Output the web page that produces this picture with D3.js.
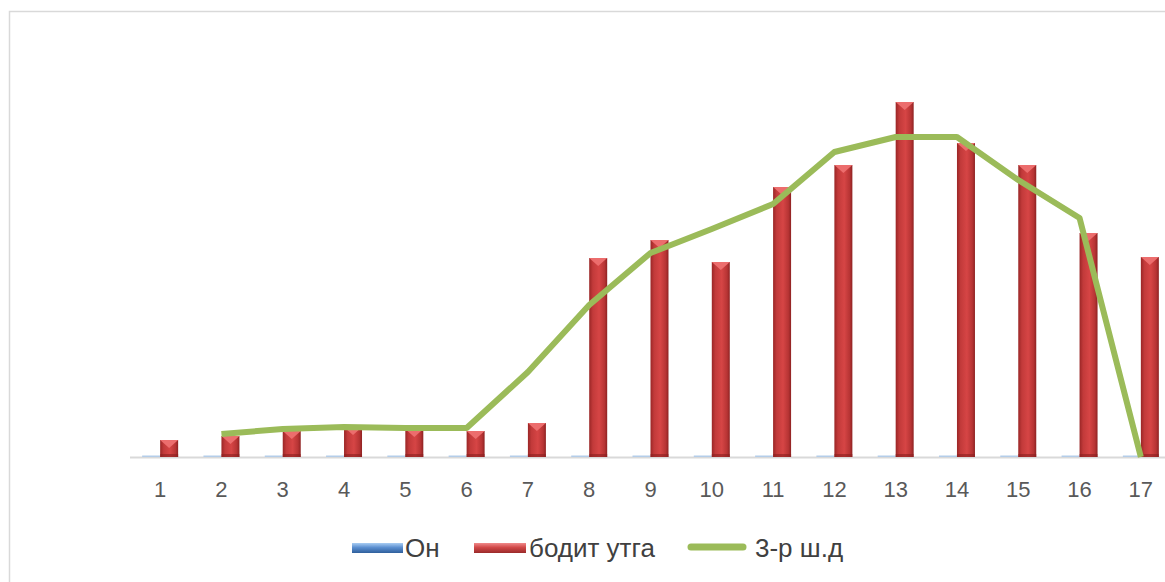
<!DOCTYPE html>
<html lang="mn">
<head>
<meta charset="utf-8">
<script src="https://d3js.org/d3.v7.min.js"></script>
<style>
  body { margin: 0; background: #fff; }
  svg { display: block; }
  .tick text { font-family: "Liberation Sans", Arial, sans-serif; font-size: 22px; fill: #595959; }
  .legend text { font-family: "Liberation Sans", Arial, sans-serif; font-size: 26px; fill: #404040; }
</style>
</head>
<body>
<svg width="1165" height="582"></svg>
<script>
// chart values
var categories = ["1","2","3","4","5","6","7","8","9","10","11","12","13","14","15","16","17"];
var seriesNames = ["Он", "бодит утга", "3-р ш.д"];
var onValues = [0,0,0,0,0,0,0,0,0,0,0,0,0,0,0,0,0];
var actualValues = [0.85,1.05,1.3,1.5,1.4,1.3,1.7,9.95,10.85,9.75,13.5,14.6,17.75,15.7,14.6,11.2,10.0];
var maValues = [null,1.15,1.4,1.5,1.45,1.45,4.25,7.6,10.2,11.4,12.65,15.25,16.0,16.0,13.85,11.95,0];

var svg = d3.select("svg");
var baseY = 457, topY = 57;

// chart frame (cut off at right and bottom)
svg.append("path")
  .attr("d", "M9.5,582 L9.5,11.5 L1165,11.5")
  .attr("fill", "none").attr("stroke", "#d9d9d9").attr("stroke-width", 1.5);

var defs = svg.append("defs");
var redGrad = defs.append("linearGradient").attr("id", "redBar");
redGrad.append("stop").attr("offset", "0%").attr("stop-color", "#9a2626");
redGrad.append("stop").attr("offset", "20%").attr("stop-color", "#c23a3a");
redGrad.append("stop").attr("offset", "55%").attr("stop-color", "#d64545");
redGrad.append("stop").attr("offset", "85%").attr("stop-color", "#b73434");
redGrad.append("stop").attr("offset", "100%").attr("stop-color", "#8e2222");

function swatchGrad(id, light, mid, dark) {
  var g = defs.append("linearGradient").attr("id", id)
    .attr("x1", 0).attr("y1", 0).attr("x2", 0).attr("y2", 1);
  g.append("stop").attr("offset", "0%").attr("stop-color", light);
  g.append("stop").attr("offset", "45%").attr("stop-color", mid);
  g.append("stop").attr("offset", "100%").attr("stop-color", dark);
}
swatchGrad("blueSw", "#a9cdf3", "#5b8fd0", "#2f5f9c");
swatchGrad("redSw", "#f08a8a", "#d04848", "#9a2a2a");

var x = d3.scaleBand()
  .domain(categories)
  .range([129.5, 1171.5])
  .paddingInner(0.413)
  .paddingOuter(0.2065);

var xs = d3.scaleBand()
  .domain(seriesNames.slice(0, 2))
  .range([0, x.bandwidth()]);

var y = d3.scaleLinear().domain([0, 20]).range([baseY, topY]);

// axis
var axis = svg.append("g")
  .attr("transform", "translate(0," + baseY + ")")
  .call(d3.axisBottom(x).tickSize(0).tickPadding(24));
axis.select(".domain").attr("stroke", "#d9d9d9").attr("stroke-width", 2);

// "Он" bars (near zero -> thin line on the axis)
svg.append("g").selectAll("rect")
  .data(onValues)
  .enter().append("rect")
  .attr("x", function(d, i) { return x(categories[i]) + xs("Он"); })
  .attr("width", xs.bandwidth())
  .attr("y", function(d) { return Math.min(y(d), baseY - 1.5); })
  .attr("height", function(d) { return Math.max(1.5, baseY - y(d)); })
  .attr("fill", "#b4cde9");

// "бодит утга" bars
var bars = svg.append("g").selectAll("g")
  .data(actualValues)
  .enter().append("g");

bars.append("rect")
  .attr("x", function(d, i) { return x(categories[i]) + xs("бодит утга"); })
  .attr("width", xs.bandwidth())
  .attr("y", function(d) { return y(d); })
  .attr("height", function(d) { return baseY - y(d); })
  .attr("fill", "url(#redBar)");

// bevel at the top of each bar
bars.append("path")
  .attr("d", function(d, i) {
    var x0 = x(categories[i]) + xs("бодит утга"), w = xs.bandwidth(), t = y(d);
    return "M" + x0 + "," + t + " L" + (x0 + w) + "," + t + " L" + (x0 + w / 2) + "," + (t + 8) + " Z";
  })
  .attr("fill", "#ec6d6d");
bars.append("rect")
  .attr("x", function(d, i) { return x(categories[i]) + xs("бодит утга"); })
  .attr("width", xs.bandwidth())
  .attr("y", baseY - 3)
  .attr("height", 3)
  .attr("fill", "#8a2020").attr("opacity", 0.6);

// moving average line
var line = d3.line()
  .defined(function(d) { return d != null; })
  .x(function(d, i) { return x(categories[i]) + x.bandwidth() / 2; })
  .y(function(d) { return y(d); });

svg.append("path")
  .datum(maValues)
  .attr("d", line)
  .attr("fill", "none")
  .attr("stroke", "#9bbb59")
  .attr("stroke-width", 6)
  .attr("stroke-linejoin", "round");

// legend
var lg = svg.append("g").attr("class", "legend");
lg.append("rect").attr("x", 352).attr("y", 543).attr("width", 51).attr("height", 10).attr("fill", "url(#blueSw)");
lg.append("text").attr("x", 405).attr("y", 557).text(seriesNames[0]);
lg.append("rect").attr("x", 474).attr("y", 543).attr("width", 52).attr("height", 10).attr("fill", "url(#redSw)");
lg.append("text").attr("x", 529).attr("y", 557).text(seriesNames[1]);
lg.append("line").attr("x1", 691).attr("x2", 743).attr("y1", 547).attr("y2", 547)
  .attr("stroke", "#9bbb59").attr("stroke-width", 7).attr("stroke-linecap", "round");
lg.append("text").attr("x", 755).attr("y", 557).text(seriesNames[2]);
</script>
</body>
</html>
